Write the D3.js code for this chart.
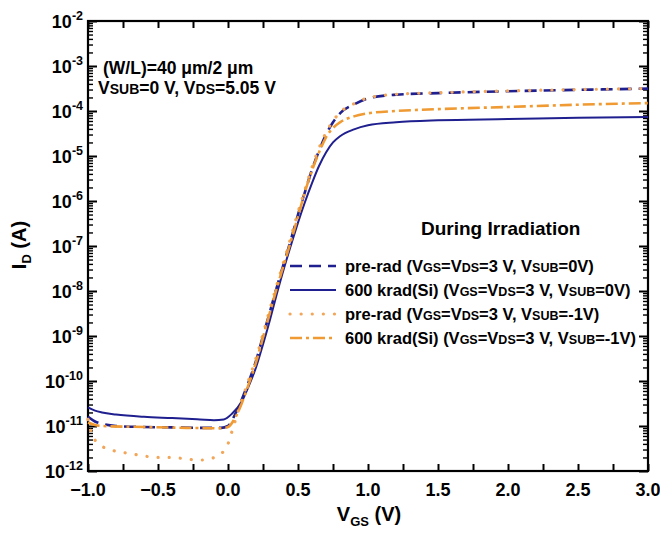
<!DOCTYPE html>
<html>
<head>
<meta charset="utf-8">
<script src="https://cdn.jsdelivr.net/npm/d3@7"></script>
<style>
  body { margin: 0; background: #fff; }
  svg { font-family: "Liberation Sans", Arial, sans-serif; font-weight: bold; }
  .axis path, .axis line { stroke: #000; }
</style>
</head>
<body>
<div id="chart"></div>
<script>
// ---- data: [VGS (V), ID (A)] ----
var preRadSub0 = [[-1.0,1.6e-11],[-0.95,1.26e-11],[-0.9,1.12e-11],[-0.8,1.0e-11],[-0.6,9.5e-12],[-0.4,9.3e-12],[-0.2,9.1e-12],[-0.05,9.1e-12],
  [0.0,1.0e-11],[0.05,1.8e-11],[0.1,4.0e-11],[0.15,1.0e-10],[0.2,2.8e-10],[0.25,1.0e-9],[0.3,3.5e-9],[0.35,1.26e-8],[0.4,4.2e-8],
  [0.45,1.4e-7],[0.5,5.0e-7],[0.55,1.6e-6],[0.6,5.0e-6],[0.65,1.3e-5],[0.7,3.0e-5],[0.75,5.6e-5],[0.8,8.9e-5],[0.9,1.4e-4],
  [1.0,1.9e-4],[1.2,2.3e-4],[1.5,2.5e-4],[2.0,2.75e-4],[2.5,2.95e-4],[3.0,3.15e-4]];

var krad600Sub0 = [[-1.0,2.6e-11],[-0.95,2.2e-11],[-0.9,2.0e-11],[-0.8,1.8e-11],[-0.6,1.6e-11],[-0.4,1.5e-11],[-0.2,1.4e-11],[-0.1,1.35e-11],
  [-0.03,1.4e-11],[0.03,1.9e-11],[0.1,3.6e-11],[0.15,8.0e-11],[0.2,2.0e-10],[0.25,6.5e-10],[0.3,2.3e-9],[0.35,8.9e-9],[0.4,3.2e-8],
  [0.45,1.05e-7],[0.5,3.3e-7],[0.55,9.5e-7],[0.6,2.5e-6],[0.65,6.0e-6],[0.7,1.2e-5],[0.75,2.0e-5],[0.8,2.75e-5],[0.9,3.9e-5],
  [1.0,4.8e-5],[1.2,5.6e-5],[1.5,6.2e-5],[2.0,6.6e-5],[2.5,7.1e-5],[3.0,7.4e-5]];

var preRadSubM1 = [[-1.0,1.4e-11],[-0.97,6.3e-12],[-0.93,4.2e-12],[-0.89,3.4e-12],[-0.8,2.75e-12],[-0.7,2.45e-12],[-0.6,2.15e-12],[-0.5,2.0e-12],
  [-0.4,2.0e-12],[-0.3,1.85e-12],[-0.2,1.75e-12],[-0.12,1.9e-12],[-0.05,2.4e-12],[0.0,4.0e-12],[0.03,7.9e-12],[0.06,1.6e-11],[0.1,3.8e-11],
  [0.15,1.1e-10],[0.2,3.2e-10],[0.25,1.1e-9],[0.3,4.0e-9],[0.35,1.4e-8],[0.4,4.7e-8],[0.45,1.6e-7],[0.5,5.6e-7],[0.55,1.8e-6],
  [0.6,5.6e-6],[0.65,1.5e-5],[0.7,3.3e-5],[0.75,6.0e-5],[0.8,9.3e-5],[0.9,1.45e-4],[1.0,1.95e-4],[1.2,2.35e-4],[1.5,2.55e-4],
  [2.0,2.8e-4],[2.5,3.0e-4],[3.0,3.15e-4]];

var krad600SubM1 = [[-1.0,1.2e-11],[-0.95,1.05e-11],[-0.9,1.0e-11],[-0.6,9.5e-12],[-0.3,9.1e-12],[-0.05,8.9e-12],[0.0,9.5e-12],[0.05,1.5e-11],
  [0.1,3.3e-11],[0.15,8.9e-11],[0.2,2.6e-10],[0.25,9.3e-10],[0.3,3.4e-9],[0.35,1.2e-8],[0.4,4.0e-8],[0.45,1.3e-7],[0.5,4.5e-7],
  [0.55,1.6e-6],[0.6,4.8e-6],[0.65,1.2e-5],[0.7,2.6e-5],[0.75,4.2e-5],[0.8,5.6e-5],[0.9,7.6e-5],[1.0,8.9e-5],[1.2,1.0e-4],
  [1.5,1.1e-4],[2.0,1.23e-4],[2.5,1.38e-4],[3.0,1.5e-4]];

var xMajorTicks = [-1.0,-0.5,0.0,0.5,1.0,1.5,2.0,2.5,3.0];
var yExponents = [-2,-3,-4,-5,-6,-7,-8,-9,-10,-11,-12];

var series = [
  {data: preRadSub0,   color: "#1f1f8f", dash: "12,7",        width: 2.6, cap: "butt",  label: ["pre-rad (V","GS","=V","DS","=3 V, V","SUB","=0V)"]},
  {data: krad600Sub0,  color: "#1f1f8f", dash: null,          width: 2.0, cap: "butt",  label: ["600 krad(Si) (V","GS","=V","DS","=3 V, V","SUB","=0V)"]},
  {data: preRadSubM1,  color: "#f2a65a", dash: "0.1,11",      width: 3.2, cap: "round", label: ["pre-rad (V","GS","=V","DS","=3 V, V","SUB","=-1V)"]},
  {data: krad600SubM1, color: "#ef9a33", dash: "12,4,3,4",    width: 2.6, cap: "butt",  label: ["600 krad(Si) (V","GS","=V","DS","=3 V, V","SUB","=-1V)"]}
];

var width = 660, height = 535;
var margin = {left: 88, right: 12, top: 21, bottom: 64};

var svg = d3.select("#chart").append("svg").attr("width", width).attr("height", height);

var x = d3.scaleLinear().domain([-1, 3]).range([margin.left, width - margin.right]);
var y = d3.scaleLog().domain([1e-12, 1e-2]).range([height - margin.bottom, margin.top]);

// minor ticks for log axis
var minorY = [];
yExponents.forEach(function(e) {
  if (e === -2) return;
  for (var m = 2; m <= 9; m++) minorY.push(m * Math.pow(10, e));
});
var majorY = yExponents.map(function(e) { return Math.pow(10, e); });
var xTicks = d3.range(-1, 3.001, 0.25);

function styleAxis(g) {
  g.attr("class", "axis");
  g.select(".domain").remove();
  g.selectAll("line").attr("stroke-width", 2);
}

// left / right major + minor ticks
svg.append("g").attr("transform", "translate(" + x(-1) + ",0)")
  .call(d3.axisLeft(y).tickValues(majorY).tickSize(-9).tickFormat("")).call(styleAxis);
svg.append("g").attr("transform", "translate(" + x(-1) + ",0)")
  .call(d3.axisLeft(y).tickValues(minorY).tickSize(-5).tickFormat("")).call(styleAxis)
  .selectAll("line").attr("stroke-width", 1.4);
svg.append("g").attr("transform", "translate(" + x(3) + ",0)")
  .call(d3.axisRight(y).tickValues(majorY).tickSize(-9).tickFormat("")).call(styleAxis);
svg.append("g").attr("transform", "translate(" + x(3) + ",0)")
  .call(d3.axisRight(y).tickValues(minorY).tickSize(-5).tickFormat("")).call(styleAxis)
  .selectAll("line").attr("stroke-width", 1.4);

// bottom / top ticks
svg.append("g").attr("transform", "translate(0," + y(1e-12) + ")")
  .call(d3.axisBottom(x).tickValues(xTicks).tickSize(-7).tickFormat("")).call(styleAxis);
svg.append("g").attr("transform", "translate(0," + y(1e-2) + ")")
  .call(d3.axisTop(x).tickValues(xTicks).tickSize(-7).tickFormat("")).call(styleAxis);

// frame
svg.append("rect")
  .attr("x", x(-1)).attr("y", y(1e-2))
  .attr("width", x(3) - x(-1)).attr("height", y(1e-12) - y(1e-2))
  .attr("fill", "none").attr("stroke", "#000").attr("stroke-width", 2.2);

// y tick labels 10^n
yExponents.forEach(function(e) {
  var t = svg.append("text")
    .attr("x", x(-1) - 5).attr("y", y(Math.pow(10, e)) + 7)
    .attr("text-anchor", "end").attr("font-size", 18);
  t.append("tspan").text("10");
  t.append("tspan").attr("font-size", 12.5).attr("dy", -8).text(String(e));
});

// x tick labels
svg.selectAll(".xlab").data(xMajorTicks).enter().append("text")
  .attr("class", "xlab")
  .attr("x", function(d) { return x(d); })
  .attr("y", 496)
  .attr("text-anchor", "middle").attr("font-size", 18)
  .text(function(d) { return d3.format(".1f")(d); });

// axis titles
var xt = svg.append("text").attr("x", 369).attr("y", 521).attr("text-anchor", "middle").attr("font-size", 20);
xt.append("tspan").text("V");
xt.append("tspan").attr("font-size", 13).attr("dy", 5).text("GS");
xt.append("tspan").attr("dy", -5).text(" (V)");

var yt = svg.append("text").attr("transform", "translate(26,245) rotate(-90)").attr("text-anchor", "middle").attr("font-size", 20);
yt.append("tspan").text("I");
yt.append("tspan").attr("font-size", 13).attr("dy", 5).text("D");
yt.append("tspan").attr("dy", -5).text(" (A)");

// curves
var line = d3.line()
  .x(function(d) { return x(d[0]); })
  .y(function(d) { return y(d[1]); })
  .curve(d3.curveMonotoneX);

series.forEach(function(s) {
  svg.append("path")
    .datum(s.data)
    .attr("d", line)
    .attr("fill", "none")
    .attr("stroke", s.color)
    .attr("stroke-width", s.width)
    .attr("stroke-linecap", s.cap)
    .attr("stroke-dasharray", s.dash);
});

// annotations
var a1 = svg.append("text").attr("x", 103).attr("y", 74).attr("font-size", 17.5);
a1.append("tspan").text("(W/L)=40 \u03bcm/2 \u03bcm");
var a2 = svg.append("text").attr("x", 98).attr("y", 94).attr("font-size", 17.5);
a2.append("tspan").text("V");
a2.append("tspan").attr("font-size", 14).text("SUB");
a2.append("tspan").text("=0 V, V");
a2.append("tspan").attr("font-size", 14).text("DS");
a2.append("tspan").text("=5.05 V");

svg.append("text").attr("x", 421).attr("y", 235).attr("font-size", 19).text("During Irradiation");

// legend
var legendY = [266, 290, 314, 338];
series.forEach(function(s, i) {
  var ly = legendY[i];
  svg.append("line")
    .attr("x1", 290).attr("x2", 336).attr("y1", ly).attr("y2", ly)
    .attr("stroke", s.color).attr("stroke-width", s.width)
    .attr("stroke-linecap", s.cap).attr("stroke-dasharray", s.dash);
  var t = svg.append("text").attr("x", 345).attr("y", ly + 6).attr("font-size", 16.5);
  s.label.forEach(function(part, j) {
    t.append("tspan").attr("font-size", j % 2 === 1 ? 12.5 : 16.5).text(part);
  });
});
</script>
</body>
</html>
